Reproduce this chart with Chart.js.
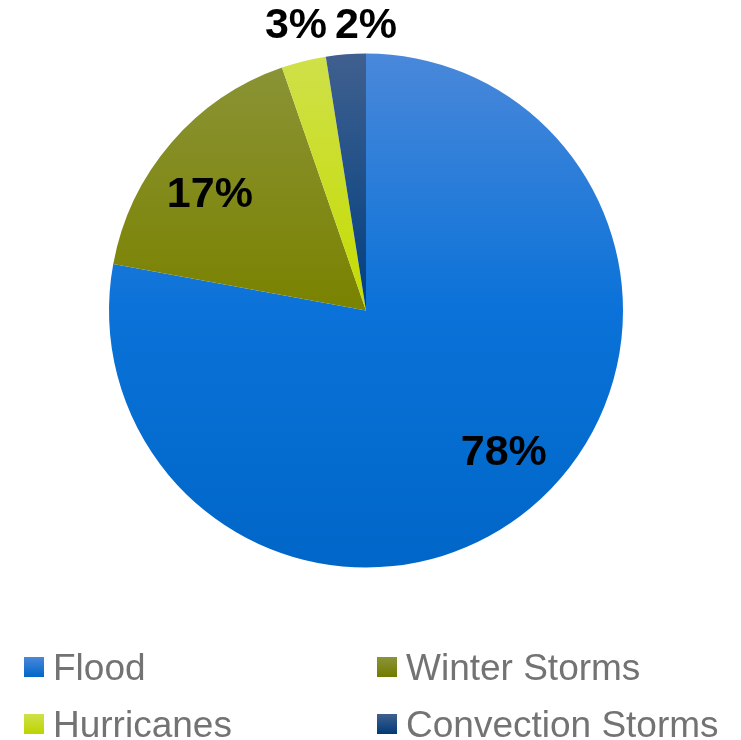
<!DOCTYPE html>
<html>
<head>
<meta charset="utf-8">
<script src="https://cdn.jsdelivr.net/npm/chart.js@4.4.1/dist/chart.umd.min.js"></script>
<style>
  html, body { margin: 0; padding: 0; background: #fff; }
  #wrap { width: 741px; height: 740px; }
</style>
</head>
<body>
<div id="wrap"><canvas id="pie" width="741" height="740"></canvas></div>
<script>
// data
const categories = ["Flood", "Winter Storms", "Hurricanes", "Convection Storms"];
const shares = [77.9, 16.8, 2.8, 2.5];
const pctLabels = ["78%", "17%", "3%", "2%"];

// gradient stops per slice: top / middle / bottom
const sliceColors = [
  ["#4a88da", "#0a72d8", "#0066c8"],
  ["#8b9438", "#7a8200", "#737a00"],
  ["#cfe04a", "#c4dc00", "#bcd400"],
  ["#40608f", "#003f80", "#003a76"],
];

function sliceFill(ctx) {
  const chart = ctx.chart;
  const area = chart.chartArea;
  if (!area) return sliceColors[ctx.dataIndex][1];
  const c = sliceColors[ctx.dataIndex];
  const g = chart.ctx.createLinearGradient(0, area.top, 0, area.bottom);
  g.addColorStop(0, c[0]);
  g.addColorStop(0.5, c[1]);
  g.addColorStop(1, c[2]);
  return g;
}

// percent labels on / above the slices
const pctPlugin = {
  id: "pctLabels",
  afterDatasetsDraw(chart) {
    const ctx = chart.ctx;
    const arcs = chart.getDatasetMeta(0).data;
    ctx.save();
    ctx.fillStyle = "#000";
    ctx.font = "bold 43px 'Liberation Sans', Arial, sans-serif";
    ctx.textAlign = "center";
    ctx.textBaseline = "middle";
    arcs.forEach((arc, i) => {
      const mid = (arc.startAngle + arc.endAngle) / 2;
      let x, y;
      if (shares[i] >= 10) {
        const r = arc.outerRadius * 0.765;
        x = arc.x + Math.cos(mid) * r;
        y = arc.y + Math.sin(mid) * r;
        if (i === 0) { x += 12; y -= 8; }
        if (i === 1) { x -= 7; y += 13; }
      } else {
        // small slices: put the label above the pie
        y = arc.y - arc.outerRadius - 27;
        x = i === 2 ? arc.x - 70 : arc.x;
      }
      ctx.fillText(pctLabels[i], x, y);
    });
    ctx.restore();
  },
};

// legend in two columns under the pie
const legendPlugin = {
  id: "legend2col",
  afterDraw(chart) {
    const ctx = chart.ctx;
    const cols = [24, 377];
    const rows = [657, 714];
    ctx.save();
    ctx.font = "37px 'Liberation Sans', Arial, sans-serif";
    ctx.textBaseline = "middle";
    categories.forEach((name, i) => {
      const x = cols[i % 2];
      const y = rows[Math.floor(i / 2)];
      const g = ctx.createLinearGradient(0, y, 0, y + 20);
      g.addColorStop(0, sliceColors[i][0]);
      g.addColorStop(1, sliceColors[i][2]);
      ctx.fillStyle = g;
      ctx.fillRect(x, y, 20, 20);
      ctx.fillStyle = "#737373";
      ctx.fillText(name, x + 29, y + 13);
    });
    ctx.restore();
  },
};

new Chart(document.getElementById("pie"), {
  type: "pie",
  data: {
    labels: categories,
    datasets: [{
      data: shares,
      backgroundColor: sliceFill,
      borderWidth: 0,
    }],
  },
  options: {
    responsive: false,
    animation: false,
    devicePixelRatio: 1,
    layout: { padding: { left: 109, right: 118, top: 53, bottom: 172 } },
    plugins: {
      legend: { display: false },
      tooltip: { enabled: false },
    },
  },
  plugins: [pctPlugin, legendPlugin],
});
</script>
</body>
</html>
